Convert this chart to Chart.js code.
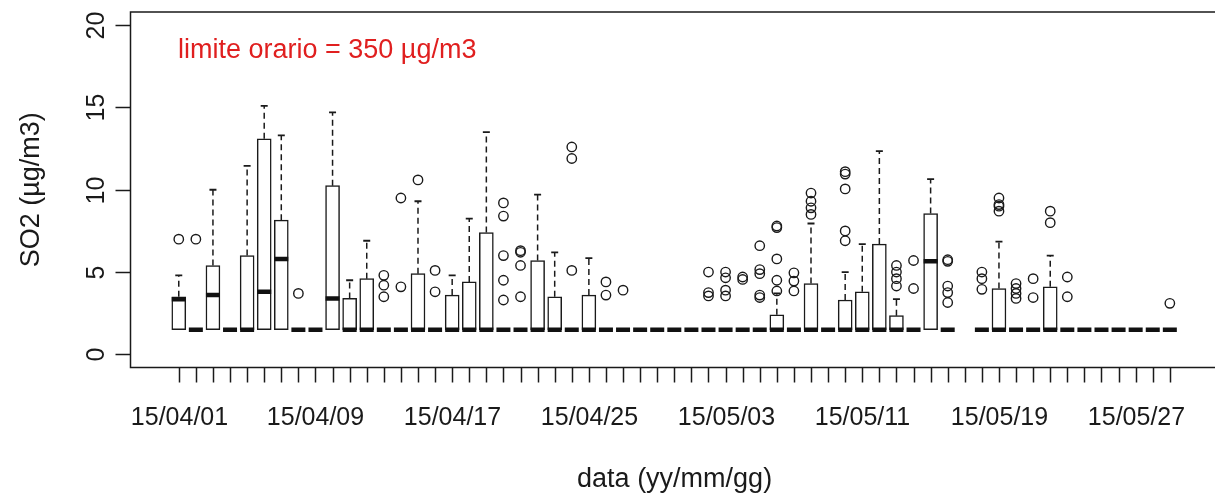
<!DOCTYPE html>
<html>
<head>
<meta charset="utf-8">
<script src="https://cdn.jsdelivr.net/npm/chart.js@4"></script>
<style>
  html, body { margin: 0; padding: 0; background: #fff; overflow: hidden; }
  #wrap { width: 1215px; height: 497px; }
</style>
</head>
<body>
<div id="wrap"><canvas id="so2" width="1215" height="497"></canvas></div>
<script>
// one box per day, 15/04/01 .. 15/05/29 (15/05/17 has no data)
const dates = [
  '15/04/01','15/04/02','15/04/03','15/04/04','15/04/05','15/04/06','15/04/07','15/04/08','15/04/09','15/04/10',
  '15/04/11','15/04/12','15/04/13','15/04/14','15/04/15','15/04/16','15/04/17','15/04/18','15/04/19','15/04/20',
  '15/04/21','15/04/22','15/04/23','15/04/24','15/04/25','15/04/26','15/04/27','15/04/28','15/04/29','15/04/30',
  '15/05/01','15/05/02','15/05/03','15/05/04','15/05/05','15/05/06','15/05/07','15/05/08','15/05/09','15/05/10',
  '15/05/11','15/05/12','15/05/13','15/05/14','15/05/15','15/05/16','15/05/17','15/05/18','15/05/19','15/05/20',
  '15/05/21','15/05/22','15/05/23','15/05/24','15/05/25','15/05/26','15/05/27','15/05/28','15/05/29'
]

const q1 = [
  1.5,1.5,1.5,1.5,1.5,1.5,1.5,1.5,1.5,1.5,
  1.5,1.5,1.5,1.5,1.5,1.5,1.5,1.5,1.5,1.5,
  1.5,1.5,1.5,1.5,1.5,1.5,1.5,1.5,1.5,1.5,
  1.5,1.5,1.5,1.5,1.5,1.5,1.5,1.5,1.5,1.5,
  1.5,1.5,1.5,1.5,1.5,1.5,null,1.5,1.5,1.5,
  1.5,1.5,1.5,1.5,1.5,1.5,1.5,1.5,1.5
]

const medians = [
  3.35,1.5,3.6,1.5,1.5,3.8,5.8,1.5,1.5,3.4,
  1.5,1.5,1.5,1.5,1.5,1.5,1.5,1.5,1.5,1.5,
  1.5,1.5,1.5,1.5,1.5,1.5,1.5,1.5,1.5,1.5,
  1.5,1.5,1.5,1.5,1.5,1.5,1.5,1.5,1.5,1.5,
  1.5,1.5,1.5,1.5,5.65,1.5,null,1.5,1.5,1.5,
  1.5,1.5,1.5,1.5,1.5,1.5,1.5,1.5,1.5
]

const q3 = [
  3.5,1.5,5.4,1.5,6.0,13.1,8.15,1.5,1.5,10.25,
  3.4,4.6,1.5,1.5,4.9,1.5,3.6,4.4,7.4,1.5,
  1.5,5.7,3.5,1.5,3.6,1.5,1.5,1.5,1.5,1.5,
  1.5,1.5,1.5,1.5,1.5,2.4,1.5,4.3,1.5,3.3,
  3.8,6.7,2.35,1.5,8.55,1.5,null,1.5,4.0,1.5,
  1.5,4.1,1.5,1.5,1.5,1.5,1.5,1.5,1.5
]

const upperWhisker = [
  4.8,1.5,10.0,1.5,11.45,15.1,13.3,1.5,1.5,14.7,
  4.5,6.9,1.5,1.5,9.3,1.5,4.8,8.25,13.5,1.5,
  1.5,9.7,6.2,1.5,5.85,1.5,1.5,1.5,1.5,1.5,
  1.5,1.5,1.5,1.5,1.5,3.7,1.5,7.95,1.5,5.0,
  6.7,12.35,3.35,1.5,10.65,1.5,null,1.5,6.85,1.5,
  1.5,6.0,1.5,1.5,1.5,1.5,1.5,1.5,1.5
]

const outliers = [
  [7.0],[7.0],[],[],[],[],[],[3.7],[],[],
  [],[],[4.8,4.2,3.5],[9.5,4.1],[10.6],[5.1,3.8],[],[],[],[9.2,8.4,6.0,4.5,3.3],
  [6.3,6.2,5.4,3.5],[],[],[12.6,11.9,5.1],[],[4.4,3.6],[3.9],[],[],[],
  [],[5.0,3.75,3.55],[5.0,4.65,3.9,3.55],[4.7,4.55],[6.6,5.15,4.9,3.6,3.45],[7.8,7.7,5.8,4.5,3.85],[4.95,4.45,3.85],[9.8,9.3,8.9,8.5],[],[11.1,10.95,10.05,7.5,6.9],
  [],[],[5.4,5.0,4.6,4.15],[5.7,4.0],[],[5.75,5.65,4.15,3.75,3.15],[],[5.0,4.6,3.95],[9.5,9.1,9.0,8.7],[4.3,4.0,3.7,3.4],
  [4.6,3.45],[8.7,8.0],[4.7,3.5],[],[],[],[],[],[3.1]
]

const yTicks = [0, 5, 10, 15, 20]
const labelEvery = 8
const limitText = 'limite orario = 350 µg/m3'

/** build chart data from the arrays */
const boxData = []
const medianData = []
const whiskerData = []
const stapleData = []
const outlierData = []
dates.forEach((d, i) => {
  const x = i + 1
  if (medians[i] === null) return
  if (q3[i] > q1[i]) boxData.push({x: x, y: [q1[i], q3[i]]})
  medianData.push({x: x, y: medians[i]})
  if (upperWhisker[i] > q3[i]) {
    whiskerData.push({x: x, y: q3[i]}, {x: x, y: upperWhisker[i]}, {x: x, y: null})
    stapleData.push({x: x, y: upperWhisker[i]})
  }
  outliers[i].forEach(v => outlierData.push({x: x, y: v}))
})

const FONT = '"Liberation Sans", Arial, sans-serif'

/** R style frame, ticks and labels, drawn from the chart scales */
const rAxes = {
  id: 'rAxes',
  afterDraw(chart) {
    const {ctx, chartArea: a, scales: {x, y}} = chart
    ctx.save()
    ctx.strokeStyle = '#1a1a1a'
    ctx.lineWidth = 1.5
    ctx.beginPath()
    ctx.moveTo(a.right + 20, a.top)
    ctx.lineTo(a.left, a.top)
    ctx.lineTo(a.left, a.bottom)
    ctx.lineTo(a.right + 20, a.bottom)
    ctx.stroke()

    ctx.fillStyle = '#1a1a1a'
    ctx.font = '25px ' + FONT
    ctx.textAlign = 'center'
    ctx.textBaseline = 'alphabetic'
    dates.forEach((d, i) => {
      const px = Math.round(x.getPixelForValue(i + 1)) + 0.5
      ctx.beginPath()
      ctx.moveTo(px, a.bottom)
      ctx.lineTo(px, a.bottom + 15)
      ctx.stroke()
      if (i % labelEvery === 0) ctx.fillText(d, px, 425)
    })

    yTicks.forEach(v => {
      const py = Math.round(y.getPixelForValue(v)) + 0.5
      ctx.beginPath()
      ctx.moveTo(a.left, py)
      ctx.lineTo(a.left - 15, py)
      ctx.stroke()
      ctx.save()
      ctx.translate(104, py)
      ctx.rotate(-Math.PI / 2)
      ctx.fillText(String(v), 0, 0)
      ctx.restore()
    })

    ctx.font = '27px ' + FONT
    ctx.fillText('data (yy/mm/gg)', (a.left + x.getPixelForValue(61.86)) / 2, 487)
    ctx.save()
    ctx.translate(39, (a.top + a.bottom) / 2)
    ctx.rotate(-Math.PI / 2)
    ctx.fillText('SO2 (µg/m3)', 0, 0)
    ctx.restore()

    ctx.fillStyle = '#e01f1f'
    ctx.textAlign = 'left'
    ctx.fillText(limitText, 178, 58)
    ctx.restore()
  }
}

new Chart(document.getElementById('so2'), {
  data: {
    datasets: [
      {
        type: 'bar',
        data: boxData,
        backgroundColor: '#ffffff',
        borderColor: '#1a1a1a',
        borderWidth: 1.5,
        borderSkipped: false,
        barThickness: 14,
        grouped: false,
        order: 4
      },
      {
        type: 'line',
        data: whiskerData,
        borderColor: '#1a1a1a',
        borderWidth: 1.5,
        borderDash: [6, 4],
        pointRadius: 0,
        spanGaps: false,
        order: 3
      },
      {
        type: 'scatter',
        data: stapleData,
        pointStyle: 'line',
        pointRadius: 3.5,
        borderColor: '#1a1a1a',
        pointBorderWidth: 1.8,
        order: 2
      },
      {
        type: 'scatter',
        data: medianData,
        pointStyle: 'line',
        pointRadius: 7,
        borderColor: '#111111',
        pointBorderWidth: 4.5,
        order: 1
      },
      {
        type: 'scatter',
        data: outlierData,
        pointStyle: 'circle',
        pointRadius: 4.7,
        backgroundColor: 'rgba(0,0,0,0)',
        borderColor: '#1a1a1a',
        pointBorderWidth: 1.4,
        order: 0
      }
    ]
  },
  options: {
    responsive: false,
    animation: false,
    devicePixelRatio: 1,
    layout: {padding: {left: 130.5, top: 12, right: 0, bottom: 129.5}},
    plugins: {legend: {display: false}, tooltip: {enabled: false}},
    scales: {
      x: {type: 'linear', min: -1.825, max: 60.97, offset: false, display: false},
      y: {type: 'linear', min: -0.8, max: 20.8, display: false}
    }
  },
  plugins: [rAxes]
})
</script>
</body>
</html>
